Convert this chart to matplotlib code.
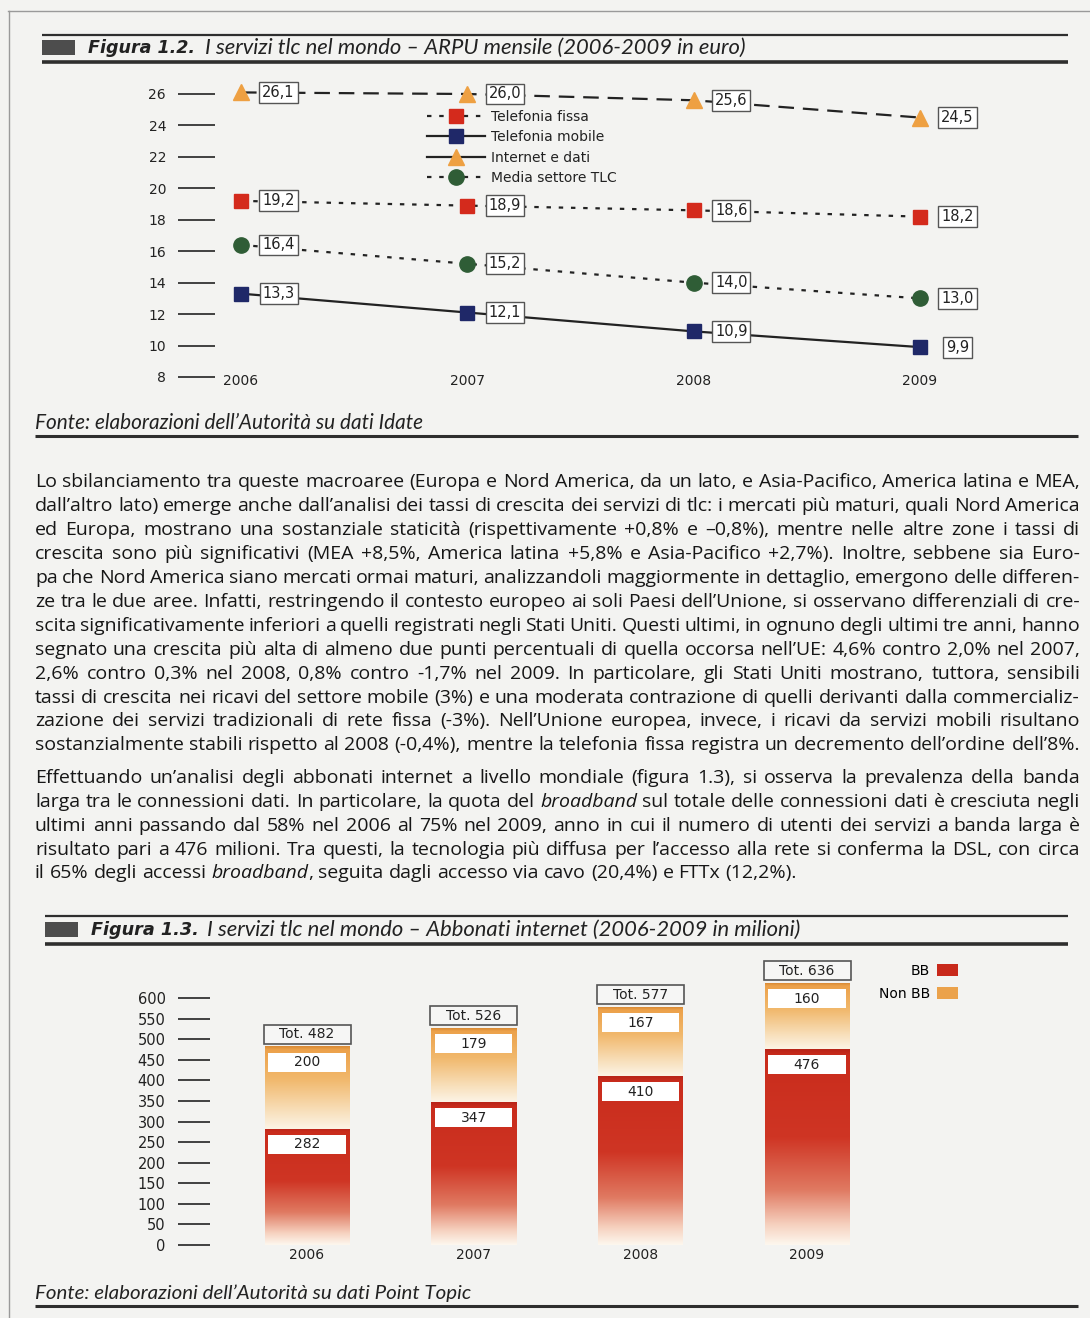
import matplotlib
matplotlib.use('Agg')
import matplotlib.pyplot as plt
import numpy as np
from matplotlib.lines import Line2D
from matplotlib.patches import Rectangle, Patch
from matplotlib.colors import LinearSegmentedColormap

# ---------------- data ----------------
years = [2006, 2007, 2008, 2009]
fissa = [19.2, 18.9, 18.6, 18.2]
mobile = [13.3, 12.1, 10.9, 9.9]
internet = [26.1, 26.0, 25.6, 24.5]
media = [16.4, 15.2, 14.0, 13.0]
series_labels = ['Telefonia fissa', 'Telefonia mobile', 'Internet e dati', 'Media settore TLC']
arpu_ticks = list(range(8, 27, 2))

bb = [282, 347, 410, 476]
non_bb = [200, 179, 167, 160]
bar_ticks = list(range(0, 601, 50))

title1_num = 'Figura 1.2.'
title1 = 'I servizi tlc nel mondo \u2013 ARPU mensile (2006-2009 in euro)'
title2_num = 'Figura 1.3.'
title2 = 'I servizi tlc nel mondo \u2013 Abbonati internet (2006-2009 in milioni)'
source1 = 'Fonte: elaborazioni dell\u2019Autorit\u00e0 su dati Idate'
source2 = 'Fonte: elaborazioni dell\u2019Autorit\u00e0 su dati Point Topic'

para1 = [
    "Lo sbilanciamento tra queste macroaree (Europa e Nord America, da un lato, e Asia-Pacifico, America latina e MEA,",
    "dall\u2019altro lato) emerge anche dall\u2019analisi dei tassi di crescita dei servizi di tlc: i mercati pi\u00f9 maturi, quali Nord America",
    "ed Europa, mostrano una sostanziale staticit\u00e0 (rispettivamente +0,8% e \u20130,8%), mentre nelle altre zone i tassi di",
    "crescita sono pi\u00f9 significativi (MEA +8,5%, America latina +5,8% e Asia-Pacifico +2,7%). Inoltre, sebbene sia Euro-",
    "pa che Nord America siano mercati ormai maturi, analizzandoli maggiormente in dettaglio, emergono delle differen-",
    "ze tra le due aree. Infatti, restringendo il contesto europeo ai soli Paesi dell\u2019Unione, si osservano differenziali di cre-",
    "scita significativamente inferiori a quelli registrati negli Stati Uniti. Questi ultimi, in ognuno degli ultimi tre anni, hanno",
    "segnato una crescita pi\u00f9 alta di almeno due punti percentuali di quella occorsa nell\u2019UE: 4,6% contro 2,0% nel 2007,",
    "2,6% contro 0,3% nel 2008, 0,8% contro -1,7% nel 2009. In particolare, gli Stati Uniti mostrano, tuttora, sensibili",
    "tassi di crescita nei ricavi del settore mobile (3%) e una moderata contrazione di quelli derivanti dalla commercializ-",
    "zazione dei servizi tradizionali di rete fissa (-3%). Nell\u2019Unione europea, invece, i ricavi da servizi mobili risultano",
    "sostanzialmente stabili rispetto al 2008 (-0,4%), mentre la telefonia fissa registra un decremento dell\u2019ordine dell\u20198%.",
]
para2 = [
    "Effettuando un\u2019analisi degli abbonati internet a livello mondiale (figura 1.3), si osserva la prevalenza della banda",
    "larga tra le connessioni dati. In particolare, la quota del _broadband_ sul totale delle connessioni dati \u00e8 cresciuta negli",
    "ultimi anni passando dal 58% nel 2006 al 75% nel 2009, anno in cui il numero di utenti dei servizi a banda larga \u00e8",
    "risultato pari a 476 milioni. Tra questi, la tecnologia pi\u00f9 diffusa per l\u2019accesso alla rete si conferma la DSL, con circa",
    "il 65% degli accessi _broadband_, seguita dagli accesso via cavo (20,4%) e FTTx (12,2%).",
]

# ---------------- figure ----------------
W, H = 1090, 1318
fig = plt.figure(figsize=(W / 100, H / 100), dpi=100)
BG = '#f3f3f1'
fig.patch.set_facecolor(BG)
R = fig.canvas.get_renderer()
INK = '#222222'
BODY_FONT = 'Open Sans'


def fx(x):
    return x / W


def fy(y):
    return 1 - y / H


def hline(x0, x1, y, lw, color='#2e2e2e'):
    fig.add_artist(Line2D([fx(x0), fx(x1)], [fy(y), fy(y)], lw=lw, color=color,
                          transform=fig.transFigure, solid_capstyle='butt'))


def fit_text(x, y, s, target_w, **kw):
    t = fig.text(fx(x), fy(y), s, fontsize=10, va='center', ha='left', color=INK, **kw)
    w = t.get_window_extent(R).width
    t.set_fontsize(10 * target_w / w)
    return t


# page frame
fig.add_artist(Line2D([fx(8), fx(1090)], [fy(11), fy(11)], lw=1, color='#9a9a9a', transform=fig.transFigure))
fig.add_artist(Line2D([fx(9), fx(9)], [fy(11), fy(1318)], lw=1, color='#9a9a9a', transform=fig.transFigure))


def header(y_text, y_top, y_bot, x_block, num, rest, num_w, rest_x, rest_w):
    hline(x_block, 1068, y_top, 1.6)
    hline(x_block, 1068, y_bot, 2.6)
    fig.add_artist(Rectangle((fx(x_block), fy(y_text + 7)), 33 / W, 15 / H,
                             transform=fig.transFigure, color='#4d4d4d', lw=0))
    fit_text(x_block + 46, y_text, num, num_w, family='DejaVu Sans', fontweight='bold',
             style='italic', )
    fit_text(rest_x, y_text, rest, rest_w, family='Lato', style='italic')


header(48, 35, 62, 42, title1_num, title1, 107, 205, 540)
header(930, 916, 944, 45, title2_num, title2, 108, 207, 593)

fit_text(35, 423, source1, 388, family='Lato', style='italic')
hline(35, 1078, 436, 2.2)
fit_text(35, 1293, source2, 436, family='Lato', style='italic')
hline(35, 1078, 1306, 2.2)

# ---------------- chart 1: ARPU ----------------
RED = '#d42a1c'
NAVY = '#1f2868'
ORANGE = '#eea042'
GREEN = '#2f5d36'

ax1 = fig.add_axes([fx(215), fy(385), (985 - 215) / W, (385 - 80) / H])
ax1.set_facecolor('none')
for s in ax1.spines.values():
    s.set_visible(False)
ax1.set_xlim(2005.885, 2009.287)
ax1.set_ylim(7.49, 26.89)
ax1.set_yticks(arpu_ticks)
ax1.tick_params(axis='y', length=26.6, width=1.3, color='#333333', pad=8.6,
                labelsize=10, labelcolor=INK, direction='out')
ax1.set_xticks([])

short_dash = (0, (2, 3.5))
long_dash = (0, (7, 4))
specs = [
    (fissa, short_dash, 's', 10, RED),
    (mobile, '-', 's', 10, NAVY),
    (internet, long_dash, '^', 12, ORANGE),
    (media, short_dash, 'o', 11, GREEN),
]
for vals, ls, mk, ms, col in specs:
    ax1.plot(years, vals, color=INK, ls=ls, lw=1.6, marker=mk, ms=ms, mfc=col, mec=col, zorder=3)
    for yr, v in zip(years, vals):
        ax1.annotate(f'{v:.1f}'.replace('.', ','), (yr, v), xytext=(27, 0),
                     textcoords='offset points', ha='center', va='center',
                     fontsize=10.5, family='DejaVu Sans', color=INK, zorder=5,
                     bbox=dict(boxstyle='square,pad=0.2', fc='white', ec='#555555', lw=1))

for yr in years:
    ax1.annotate(str(yr), (yr, 8), xytext=(0, -3), textcoords='offset points',
                 ha='center', va='center', fontsize=10, color=INK)

leg_handles = [
    Line2D([], [], color=INK, ls=short_dash, lw=1.6, marker='s', ms=10, mfc=RED, mec=RED),
    Line2D([], [], color=INK, ls='-', lw=1.6, marker='s', ms=10, mfc=NAVY, mec=NAVY),
    Line2D([], [], color=INK, ls='-', lw=1.6, marker='^', ms=12, mfc=ORANGE, mec=ORANGE),
    Line2D([], [], color=INK, ls=short_dash, lw=1.6, marker='o', ms=11, mfc=GREEN, mec=GREEN),
]
leg1 = ax1.legend(leg_handles, series_labels, loc='upper left',
                  bbox_to_anchor=(fx(427), fy(110)), bbox_transform=fig.transFigure,
                  frameon=False, fontsize=10, handlelength=4.2, handletextpad=0.4,
                  labelspacing=0.45, borderpad=0, borderaxespad=0)
for t in leg1.get_texts():
    t.set_color(INK)

# ---------------- chart 2: internet subscribers ----------------
BB_RED = '#c8291b'
NB_OR = '#eba24b'

ax2 = fig.add_axes([fx(210), fy(1245), (1070 - 210) / W, (1245 - 955) / H])
ax2.set_facecolor('none')
for s in ax2.spines.values():
    s.set_visible(False)

xpos = np.arange(len(years))
bw = 0.51
bb_cmap = LinearSegmentedColormap.from_list(
    'bb', [(0.0, '#b82418'), (0.03, '#c92c1c'), (0.45, '#cf3524'), (0.72, '#e07a62'),
           (0.9, '#f6d2c0'), (1.0, '#fdf7ee')])
nb_cmap = LinearSegmentedColormap.from_list(
    'nb', [(0.0, '#d98a35'), (0.04, '#eca14a'), (0.4, '#f1b86c'), (0.78, '#f8dfba'),
           (1.0, '#fcf4e6')])
grad = np.linspace(0, 1, 256)


def grad_bar(x, bottom, top, cmap):
    arr = cmap(grad)[:, None, :3]
    ax2.imshow(arr, extent=(x - bw / 2, x + bw / 2, bottom, top), aspect='auto',
               origin='upper', zorder=2, interpolation='bilinear')


px_per_unit = 247 / 600.0
lab_h = 19 / px_per_unit
lab_gap = 6 / px_per_unit
inset = 4 / 166.7

for x, b, n in zip(xpos, bb, non_bb):
    tot = b + n
    grad_bar(x, 0, b, bb_cmap)
    grad_bar(x, b, tot, nb_cmap)
    for top, v in ((b, b), (tot, n)):
        y0 = top - lab_gap - lab_h
        ax2.add_patch(Rectangle((x - bw / 2 + inset, y0), bw - 2 * inset, lab_h,
                                fc='white', ec='none', zorder=3))
        ax2.text(x, y0 + lab_h / 2, str(v), ha='center', va='center', fontsize=10,
                 color=INK, zorder=4)
    y0 = tot + 3 / px_per_unit
    ax2.add_patch(Rectangle((x - bw / 2 - 0.006, y0), bw + 0.012, lab_h,
                            fc='#f6f6f5', ec='#555555', lw=1.2, zorder=3))
    ax2.text(x, y0 + lab_h / 2, f'Tot. {tot}', ha='center', va='center', fontsize=10,
             color=INK, zorder=4)

ax2.set_xlim(-0.582, 4.578)
ax2.set_ylim(0, 290 / px_per_unit)
ax2.set_yticks(bar_ticks)
ax2.tick_params(axis='y', length=23, width=1.3, color='#333333', pad=9,
                labelsize=10.5, labelcolor=INK, direction='out')
ax2.set_xticks(xpos, [str(y) for y in years])
ax2.tick_params(axis='x', length=0, pad=2, labelsize=10, labelcolor=INK)

leg2 = ax2.legend([Patch(fc=BB_RED, ec='none'), Patch(fc=NB_OR, ec='none')], ['BB', 'Non BB'],
                  loc='upper right', bbox_to_anchor=(fx(958), fy(964)),
                  bbox_transform=fig.transFigure, frameon=False, markerfirst=False,
                  handlelength=1.5, handleheight=1.0, handletextpad=0.5,
                  labelspacing=0.65, fontsize=10, borderpad=0, borderaxespad=0)

# ---------------- body text (justified) ----------------
X0, X1 = 35, 1080
meas = fig.text(0, 0, '', family=BODY_FONT)


def measure(s, fs, italic=False):
    meas.set_text(s)
    meas.set_fontsize(fs)
    meas.set_style('italic' if italic else 'normal')
    return meas.get_window_extent(R).width


def split_word(w):
    segs = []
    for i, p in enumerate(w.split('_')):
        if p:
            segs.append((p, i % 2 == 1))
    return segs


lines = [(l, True) for l in para1] + [(l, True) for l in para2[:-1]] + [(para2[-1], False)]
centers = [481, 505, 529, 553, 577, 601, 625, 649, 673, 697, 720, 744,
           777, 801, 825, 849, 872]

base_fs = 14.0
space0 = measure('a a', base_fs) - measure('aa', base_fs)
need = 0
for l, j in lines:
    if not j:
        continue
    words = l.split(' ')
    wsum = sum(measure(s, base_fs, it) for w in words for s, it in split_word(w))
    need = max(need, (wsum + 0.3 * space0 * (len(words) - 1)) / (X1 - X0))
fs = base_fs / max(need, 1.0)
space = measure('a a', fs) - measure('aa', fs)
meas.set_text('')

for (l, just), yc in zip(lines, centers):
    words = l.split(' ')
    objs = []
    widths = []
    for w in words:
        segs = []
        wsum = 0
        for s, it in split_word(w):
            t = fig.text(0, fy(yc + 6), s, family=BODY_FONT, fontsize=fs,
                         style='italic' if it else 'normal', va='baseline', ha='left',
                         color='#161616')
            tw = t.get_window_extent(R).width
            segs.append((t, tw))
            wsum += tw
        objs.append(segs)
        widths.append(wsum)
    if just and len(words) > 1:
        gap = (X1 - X0 - sum(widths)) / (len(words) - 1)
    else:
        gap = space
    x = X0
    for segs, w in zip(objs, widths):
        xx = x
        for t, tw in segs:
            t.set_x(fx(xx))
            xx += tw
        x += w + gap

fig.savefig('out.png', dpi=100, facecolor=BG)
